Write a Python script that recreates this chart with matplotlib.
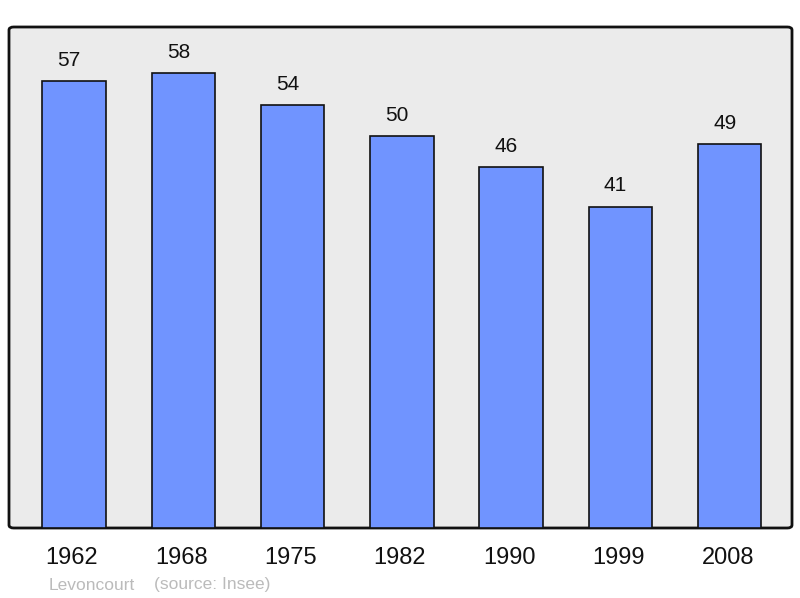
import matplotlib
matplotlib.use("Agg")
import matplotlib.pyplot as plt
import matplotlib.transforms as mtransforms
from matplotlib.patches import FancyBboxPatch

years = ["1962", "1968", "1975", "1982", "1990", "1999", "2008"]
population = [57, 58, 54, 50, 46, 41, 49]
place = "Levoncourt"
source = "(source: Insee)"

plt.rcParams['font.family'] = ['Liberation Sans', 'DejaVu Sans']

fig = plt.figure(figsize=(8.0, 5.98), dpi=100)
ax = fig.add_axes([9/800, 70/598, 783/800, 501/598])
ax.set_facecolor('none')
for s in ax.spines.values():
    s.set_visible(False)

bg = FancyBboxPatch((0, 0), 1, 1, boxstyle="round,pad=0,rounding_size=0.006",
                    transform=ax.transAxes, facecolor='#ebebeb', edgecolor='#111111',
                    linewidth=2, zorder=0, clip_on=False)
ax.add_patch(bg)

x = list(range(len(years)))
ax.bar(x, population, width=0.58, color='#7094ff', edgecolor='#111111', linewidth=1.2, zorder=2)
for xi, v in zip(x, population):
    ax.annotate(str(v), (xi, v), xytext=(-3.5, 8), textcoords='offset points',
                ha='center', va='bottom', fontsize=15, color='#111111')

ax.set_xlim(-0.595, 6.57)
ax.set_ylim(0, 63.9)
ax.set_yticks([])
ax.set_xticks(x)
ax.set_xticklabels(years, fontsize=17, color='#111111')
ax.tick_params(axis='x', length=0, pad=14)
shift = mtransforms.ScaledTranslation(-1.5/72, 0, fig.dpi_scale_trans)
for lbl in ax.get_xticklabels():
    lbl.set_transform(lbl.get_transform() + shift)

fig.text(49/800, 1 - 585/598, place, fontsize=12.5, color='#bbbbbb', ha='left', va='center')
fig.text(154/800, 1 - 585/598, source, fontsize=12.5, color='#bbbbbb', ha='left', va='center')

fig.savefig("out.png", dpi=100)
